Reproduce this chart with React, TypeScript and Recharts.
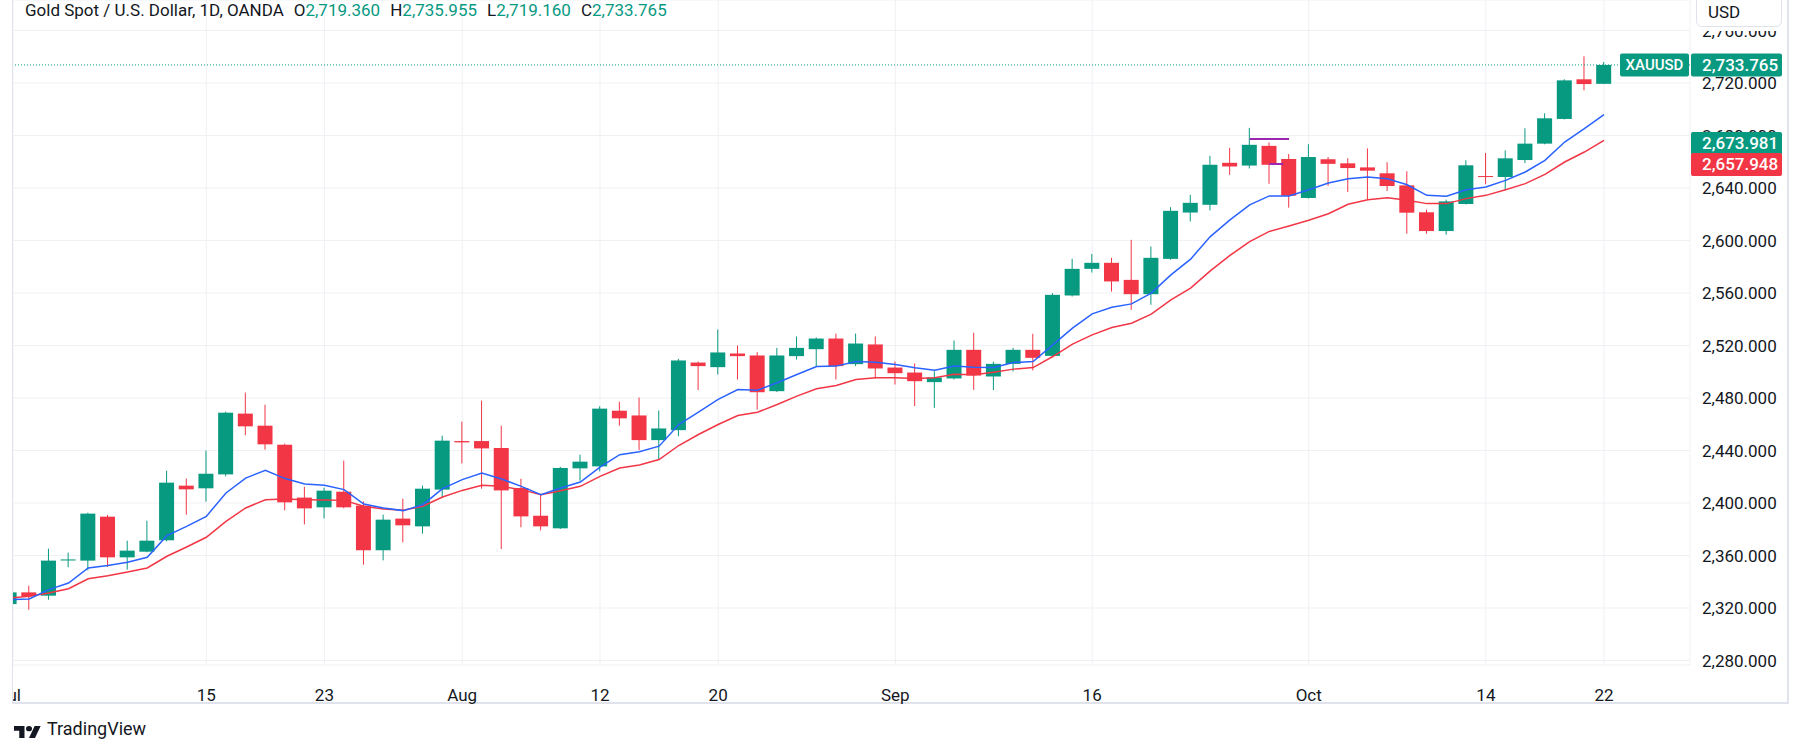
import React from 'react';
import { ComposedChart, Bar, Line, XAxis, YAxis, CartesianGrid, ReferenceLine } from 'recharts';

const UP = '#089981';
const DOWN = '#F23645';
const FAST = '#2962FF';
const PURPLE = '#9C27B0';
const TEXT = '#131722';
const FONT = 'Roboto, "Noto Sans", sans-serif';

const dates = [
  'Jul 1', 'Jul 2', 'Jul 3', 'Jul 4', 'Jul 5', 'Jul 8', 'Jul 9', 'Jul 10', 'Jul 11', 'Jul 12',
  'Jul 15', 'Jul 16', 'Jul 17', 'Jul 18', 'Jul 19', 'Jul 22', 'Jul 23', 'Jul 24', 'Jul 25', 'Jul 26',
  'Jul 29', 'Jul 30', 'Jul 31', 'Aug 1', 'Aug 2', 'Aug 5', 'Aug 6', 'Aug 7', 'Aug 8', 'Aug 9',
  'Aug 12', 'Aug 13', 'Aug 14', 'Aug 15', 'Aug 16', 'Aug 19', 'Aug 20', 'Aug 21', 'Aug 22', 'Aug 23',
  'Aug 26', 'Aug 27', 'Aug 28', 'Aug 29', 'Aug 30', 'Sep 2', 'Sep 3', 'Sep 4', 'Sep 5', 'Sep 6',
  'Sep 9', 'Sep 10', 'Sep 11', 'Sep 12', 'Sep 13', 'Sep 16', 'Sep 17', 'Sep 18', 'Sep 19', 'Sep 20',
  'Sep 23', 'Sep 24', 'Sep 25', 'Sep 26', 'Sep 27', 'Sep 30', 'Oct 1', 'Oct 2', 'Oct 3', 'Oct 4',
  'Oct 7', 'Oct 8', 'Oct 9', 'Oct 10', 'Oct 11', 'Oct 14', 'Oct 15', 'Oct 16', 'Oct 17', 'Oct 18',
  'Oct 21', 'Oct 22',
];

const opens = [
  2323.0, 2331.9, 2329.4, 2356.2, 2356.1, 2389.6, 2358.6, 2362.9, 2371.6, 2413.2,
  2411.2, 2421.8, 2468.1, 2458.9, 2444.4, 2404.1, 2396.7, 2408.6, 2398.0, 2364.0,
  2388.1, 2382.2, 2410.2, 2447.2, 2447.2, 2441.9, 2411.4, 2390.3, 2380.7, 2426.4,
  2427.9, 2470.3, 2466.7, 2447.9, 2455.5, 2507.0, 2503.5, 2513.9, 2512.4, 2485.2,
  2511.9, 2517.2, 2525.3, 2505.8, 2520.8, 2503.2, 2499.4, 2492.1, 2494.9, 2516.7,
  2496.4, 2506.0, 2516.7, 2512.1, 2558.1, 2578.4, 2583.0, 2570.0, 2559.1, 2586.0,
  2621.3, 2627.2, 2659.2, 2657.1, 2672.1, 2662.1, 2632.4, 2661.9, 2658.8, 2655.7,
  2651.2, 2642.0, 2621.5, 2607.2, 2627.8, 2649.1, 2648.4, 2661.3, 2673.8, 2692.6,
  2722.8, 2719.36,
];

const highs = [
  2334.0, 2337.0, 2365.2, 2362.2, 2392.6, 2390.9, 2371.3, 2386.5, 2424.6, 2418.6,
  2439.9, 2469.6, 2484.1, 2474.9, 2445.2, 2412.4, 2411.7, 2432.3, 2401.3, 2391.1,
  2403.3, 2413.2, 2451.3, 2462.0, 2478.0, 2458.9, 2418.5, 2406.9, 2427.5, 2436.8,
  2473.7, 2477.2, 2480.4, 2470.5, 2509.8, 2507.8, 2532.2, 2520.0, 2514.9, 2518.2,
  2526.9, 2526.1, 2529.1, 2529.1, 2526.9, 2507.8, 2506.3, 2500.4, 2523.8, 2529.7,
  2507.6, 2518.2, 2528.9, 2559.9, 2586.0, 2589.8, 2586.8, 2600.5, 2595.4, 2625.4,
  2634.8, 2664.5, 2670.6, 2685.8, 2674.7, 2665.9, 2673.4, 2663.6, 2662.6, 2670.2,
  2659.6, 2652.7, 2623.5, 2631.1, 2661.1, 2666.7, 2668.7, 2685.5, 2696.9, 2722.8,
  2740.3, 2735.955,
];

const lows = [
  2319.0, 2318.7, 2326.3, 2351.0, 2348.7, 2351.3, 2349.2, 2362.5, 2370.8, 2391.1,
  2401.0, 2420.3, 2451.6, 2440.6, 2394.4, 2383.7, 2388.3, 2396.0, 2353.0, 2356.3,
  2370.0, 2376.6, 2404.3, 2430.2, 2410.9, 2364.9, 2381.5, 2379.2, 2380.2, 2417.0,
  2424.1, 2458.9, 2440.3, 2433.1, 2450.9, 2486.0, 2497.9, 2494.1, 2471.2, 2484.5,
  2509.3, 2504.3, 2494.1, 2504.3, 2494.9, 2490.3, 2473.8, 2472.5, 2494.1, 2486.2,
  2486.0, 2500.2, 2501.0, 2511.0, 2557.3, 2575.6, 2561.1, 2547.2, 2551.0, 2585.3,
  2614.5, 2622.9, 2650.0, 2654.9, 2643.2, 2625.0, 2632.0, 2641.6, 2637.0, 2631.4,
  2637.7, 2605.2, 2605.2, 2604.4, 2627.5, 2642.8, 2638.2, 2659.0, 2673.3, 2692.2,
  2714.4, 2719.16,
];

const closes = [
  2331.9, 2328.9, 2356.1, 2357.0, 2391.9, 2358.6, 2363.7, 2371.3, 2415.5, 2410.4,
  2422.3, 2468.8, 2458.4, 2444.7, 2400.5, 2395.9, 2409.4, 2396.7, 2364.0, 2387.3,
  2383.0, 2410.9, 2447.5, 2446.2, 2441.6, 2409.6, 2389.8, 2382.2, 2426.7, 2431.5,
  2471.9, 2464.5, 2447.9, 2456.8, 2508.6, 2504.3, 2514.7, 2511.9, 2484.4, 2512.4,
  2518.2, 2525.3, 2504.3, 2521.5, 2502.5, 2498.9, 2492.8, 2495.6, 2516.7, 2497.1,
  2506.0, 2516.7, 2510.6, 2558.6, 2578.4, 2583.0, 2568.8, 2559.1, 2586.8, 2622.6,
  2628.7, 2657.7, 2656.4, 2672.9, 2657.7, 2634.1, 2663.6, 2658.4, 2655.2, 2653.2,
  2641.5, 2621.2, 2607.2, 2629.8, 2657.3, 2648.4, 2662.6, 2673.8, 2693.1, 2722.0,
  2719.2, 2733.765,
];

// blue average
const fastAvg = [
  2326.3, 2326.9, 2334.0, 2339.0, 2350.5, 2352.3, 2354.8, 2358.6, 2375.1, 2382.2,
  2389.8, 2407.6, 2419.0, 2424.9, 2418.6, 2414.5, 2413.6, 2410.2, 2399.2, 2396.2,
  2394.2, 2398.7, 2410.9, 2417.8, 2422.9, 2418.3, 2412.7, 2406.3, 2411.4, 2416.0,
  2427.4, 2436.8, 2439.0, 2443.3, 2459.8, 2469.2, 2478.9, 2486.5, 2486.0, 2491.6,
  2497.9, 2504.0, 2504.3, 2507.8, 2507.3, 2505.5, 2503.0, 2501.2, 2504.4, 2503.5,
  2503.2, 2507.0, 2507.8, 2520.5, 2533.2, 2544.1, 2549.2, 2551.7, 2559.9, 2573.8,
  2585.8, 2603.0, 2615.7, 2627.2, 2634.0, 2634.0, 2638.7, 2643.8, 2647.1, 2648.4,
  2647.1, 2642.5, 2634.4, 2633.7, 2638.7, 2640.8, 2645.8, 2652.2, 2661.1, 2675.0,
  2685.2, 2695.9,
];

// red average
const slowAvg = [
  2327.6, 2328.9, 2331.4, 2334.7, 2342.3, 2344.6, 2347.4, 2350.5, 2359.4, 2366.5,
  2373.9, 2386.0, 2396.2, 2402.5, 2403.0, 2402.5, 2402.2, 2402.0, 2397.5, 2395.4,
  2394.4, 2397.5, 2404.6, 2409.6, 2413.5, 2412.7, 2410.2, 2406.3, 2409.4, 2412.7,
  2420.3, 2426.7, 2429.0, 2433.1, 2443.8, 2452.2, 2459.8, 2466.7, 2469.2, 2475.0,
  2481.4, 2487.0, 2489.5, 2494.1, 2495.4, 2495.4, 2494.9, 2495.4, 2498.0, 2497.7,
  2499.7, 2502.0, 2503.2, 2511.6, 2521.0, 2528.1, 2533.7, 2537.0, 2543.9, 2554.8,
  2563.7, 2576.9, 2588.6, 2599.2, 2606.9, 2611.0, 2615.4, 2620.4, 2627.6, 2631.1,
  2632.6, 2630.6, 2628.1, 2628.1, 2631.9, 2634.4, 2638.7, 2643.3, 2650.4, 2659.8,
  2667.4, 2676.3,
];

const tickIndex = [0, 10, 16, 23, 30, 36, 45, 55, 66, 75, 81];
const tickText = ['Jul', '15', '23', 'Aug', '12', '20', 'Sep', '16', 'Oct', '14', '22'];
const priceTicks = [2280, 2320, 2360, 2400, 2440, 2480, 2520, 2560, 2600, 2640, 2680, 2720, 2760];

const lastPrice = 2733.765;
const fastLabel = 2673.981;
const slowLabel = 2657.948;
const markHigh = 2677.3;
const markLow = 2658.3;

const X_DOMAIN: [number, number] = [0.181, 85.368];
const Y_DOMAIN: [number, number] = [2276.571, 2783.238];

const data = dates.map((date, i) => ({
  i,
  date,
  open: opens[i],
  high: highs[i],
  low: lows[i],
  close: closes[i],
  fast: fastAvg[i],
  slow: slowAvg[i],
}));

const fmt = (v: number) =>
  v.toLocaleString('en-US', { minimumFractionDigits: 3, maximumFractionDigits: 3 });

const Candle = (props: any) => {
  const { x, y, width, height, payload } = props;
  if (!payload) return null;
  const { open, close, high, low } = payload;
  const top = Math.min(y, y + height);
  const bottom = Math.max(y, y + height);
  const ppu = (bottom - top) / (high - low || 1);
  const yOpen = top + (high - open) * ppu;
  const yClose = top + (high - close) * ppu;
  const color = close >= open ? UP : DOWN;
  const cx = x + width / 2;
  const bodyTop = Math.min(yOpen, yClose);
  const bodyH = Math.max(Math.abs(yOpen - yClose), 1);
  return (
    <g>
      <line x1={cx} x2={cx} y1={top} y2={bottom} stroke={color} strokeWidth={1} />
      <rect x={cx - 7.5} y={bodyTop} width={15} height={bodyH} fill={color} />
    </g>
  );
};

const priceTag = (value: number, color: string, name?: string) => (props: any) => {
  const vb = props.viewBox || {};
  const right = vb.x + vb.width;
  const cy = vb.y;
  return (
    <g>
      {name && (
        <g>
          <rect x={right - 70} y={cy - 11.5} width={69} height={23} rx={2} fill={color} />
          <text x={right - 35.5} y={cy} fill="#fff" fontSize={15} fontWeight={500} textAnchor="middle" dominantBaseline="central" fontFamily={FONT}>
            {name}
          </text>
        </g>
      )}
      <rect x={right + 1} y={cy - 11.5} width={91} height={23} rx={2} fill={color} />
      <text x={right + 12} y={cy} fill="#fff" fontSize={17} fontWeight={500} dominantBaseline="central" fontFamily={FONT}>
        {fmt(value)}
      </text>
    </g>
  );
};

const XTick = (props: any) => {
  const { x, y, payload } = props;
  const k = tickIndex.indexOf(payload.value);
  return (
    <text x={x} y={y + 28} textAnchor="middle" fill={TEXT} fontSize={17} fontFamily={FONT}>
      {k >= 0 ? tickText[k] : ''}
    </text>
  );
};

const TvLogo = () => (
  <svg width={27} height={12} viewBox="0 4 36 18" preserveAspectRatio="none">
    <path d="M14 22H7V11H0V4h14v18zM28 22h-8l7.5-18h8L28 22z" fill={TEXT} />
    <circle cx={20} cy={8} r={4} fill={TEXT} />
  </svg>
);

const App = () => {
  const val = { color: UP };
  const gap = { marginLeft: 10 };
  return (
    <div
      style={{
        position: 'absolute',
        left: 0,
        top: 0,
        width: 1803,
        height: 753,
        background: '#fff',
        overflow: 'hidden',
        fontFamily: FONT,
        color: TEXT,
      }}
    >
      <div
        style={{
          position: 'absolute',
          left: 12,
          top: -4,
          width: 1777,
          height: 708,
          boxSizing: 'border-box',
          borderLeft: '1px solid #e0e3eb',
          borderRight: '2px solid #e0e3eb',
          borderBottom: '2px solid #e0e3eb',
        }}
      />
      <div style={{ position: 'absolute', left: 13, top: 0 }}>
        <ComposedChart width={1775} height={715} data={data} margin={{ top: 0, right: 0, bottom: 0, left: 0 }}>
          <CartesianGrid stroke="#f0f1f4" />
          <XAxis
            dataKey="i"
            type="number"
            domain={X_DOMAIN}
            allowDataOverflow
            ticks={tickIndex}
            interval={0}
            tick={<XTick />}
            tickLine={false}
            axisLine={false}
            height={50}
          />
          <YAxis
            type="number"
            orientation="right"
            domain={Y_DOMAIN}
            allowDataOverflow
            ticks={priceTicks}
            interval={0}
            tickFormatter={fmt}
            tick={{ fill: TEXT, fontSize: 17, fontFamily: FONT }}
            tickSize={0}
            tickMargin={12}
            tickLine={false}
            axisLine={false}
            width={98}
          />
          <ReferenceLine
            segment={[{ x: 63, y: markHigh }, { x: 65, y: markHigh }]}
            stroke={PURPLE}
            strokeWidth={2}
          />
          <ReferenceLine
            segment={[{ x: 64, y: markLow }, { x: 64.7, y: markLow }]}
            stroke={PURPLE}
            strokeWidth={2}
          />
          <ReferenceLine y={lastPrice} stroke={UP} strokeDasharray="1 2" />
          <Line dataKey="slow" stroke={DOWN} strokeWidth={1.5} dot={false} isAnimationActive={false} />
          <Line dataKey="fast" stroke={FAST} strokeWidth={1.5} dot={false} isAnimationActive={false} />
          <Bar dataKey={(d: any) => [d.low, d.high]} barSize={15} shape={<Candle />} isAnimationActive={false} />
        </ComposedChart>
      </div>
      {/* price tags drawn in a second chart with the same scales so they sit above the axis labels */}
      <div style={{ position: 'absolute', left: 13, top: 0 }}>
        <ComposedChart width={1775} height={715} data={data} margin={{ top: 0, right: 0, bottom: 0, left: 0 }}>
          <XAxis dataKey="i" type="number" domain={X_DOMAIN} allowDataOverflow tick={false} tickLine={false} axisLine={false} height={50} />
          <YAxis type="number" orientation="right" domain={Y_DOMAIN} allowDataOverflow tick={false} tickLine={false} axisLine={false} width={98} />
          <ReferenceLine y={lastPrice} stroke="none" label={priceTag(lastPrice, UP, 'XAUUSD')} />
          <ReferenceLine y={fastLabel} stroke="none" label={priceTag(fastLabel, UP)} />
          <ReferenceLine y={slowLabel} stroke="none" label={priceTag(slowLabel, DOWN)} />
        </ComposedChart>
      </div>
      <div style={{ position: 'absolute', left: 25, top: 0, height: 20, lineHeight: '20px', fontSize: 17, whiteSpace: 'nowrap' }}>
        Gold Spot / U.S. Dollar, 1D, OANDA
        <span style={gap}>O</span><span style={val}>{fmt(opens[81])}</span>
        <span style={gap}>H</span><span style={val}>{fmt(highs[81])}</span>
        <span style={gap}>L</span><span style={val}>{fmt(lows[81])}</span>
        <span style={gap}>C</span><span style={val}>{fmt(closes[81])}</span>
      </div>
      <div style={{ position: 'absolute', left: 1692, top: 0, width: 94, height: 31, background: '#fff' }}>
        <div
          style={{
            position: 'absolute',
            left: 4,
            top: -8,
            width: 86,
            height: 35,
            boxSizing: 'border-box',
            border: '1px solid #e0e3eb',
            borderRadius: 6,
            background: '#fff',
            fontSize: 17,
            lineHeight: '17px',
            paddingTop: 11,
            paddingLeft: 11,
          }}
        >
          USD
        </div>
      </div>
      <div style={{ position: 'absolute', left: 14, top: 723 }}>
        <TvLogo />
      </div>
      <div style={{ position: 'absolute', left: 47, top: 719, fontSize: 18, lineHeight: '20px', color: TEXT }}>
        TradingView
      </div>
    </div>
  );
};

export default App;
